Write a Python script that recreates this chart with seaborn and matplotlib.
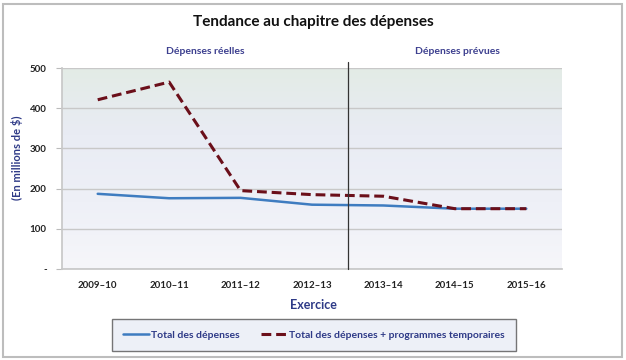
import numpy as np
import pandas as pd
import matplotlib
matplotlib.use("Agg")
import matplotlib.pyplot as plt
import seaborn as sns
from matplotlib.colors import LinearSegmentedColormap
from matplotlib.patches import Rectangle
from matplotlib.lines import Line2D

years = ["2009–10", "2010–11", "2011–12", "2012–13", "2013–14", "2014–15", "2015–16"]
total = [187, 176, 177, 160, 158, 150, 150]
total_temp = [421, 465, 195, 185, 181, 150, 150]
yticks = [0, 100, 200, 300, 400, 500]
ytick_labels = ["-", "100", "200", "300", "400", "500"]

sns.set_theme(style="white")
plt.rcParams["font.family"] = ["Lato", "DejaVu Sans"]

navy = "#2E3A87"
fig = plt.figure(figsize=(6.26, 3.6), dpi=100)
ax = fig.add_axes([62/626, 1-269/360, 500/626, 201/360])

# gradient background
cmap = LinearSegmentedColormap.from_list("bg", ["#F6F6FA", "#EEF0F7", "#E9ECF4", "#E3EBE6"])
grad = np.linspace(0, 1, 256).reshape(-1, 1)
ax.imshow(grad, extent=[-0.5, 6.5, 0, 500], aspect="auto", cmap=cmap, origin="lower", zorder=0)

df = pd.DataFrame({"Exercice": years, "a": total, "b": total_temp})
x = np.arange(len(years))
sns.lineplot(x=x, y=df["b"], ax=ax, color="#6B0F1A", lw=2.2, zorder=3)
ax.lines[-1].set_dashes([3.2, 1.6])
sns.lineplot(x=x, y=df["a"], ax=ax, color="#3E7CC0", lw=1.8, zorder=2)

ax.set_xlim(-0.5, 6.5)
ax.set_ylim(0, 500)
ax.set_yticks(yticks)
ax.set_yticklabels(ytick_labels)
ax.set_xticks(x)
ax.set_xticklabels(years)
ax.set_xticks(np.arange(-0.5, 7, 1), minor=True)
ax.tick_params(axis="x", which="major", length=0, pad=9, labelsize=7, labelcolor="#222222")
ax.tick_params(axis="x", which="minor", length=4, color="#BBBBBB", width=0.8, direction="out")
ax.tick_params(axis="y", length=4, color="#BBBBBB", width=0.8, labelsize=7, labelcolor="#222222", pad=7, left=True)
for lab in ax.get_xticklabels() + ax.get_yticklabels():
    lab.set_fontweight("bold")
ax.grid(axis="y", color="#C8C8C8", lw=1, zorder=1)
ax.set_axisbelow(True)
for s in ["top", "right"]:
    ax.spines[s].set_visible(False)
ax.spines["left"].set_color("#C8C8C8")
ax.spines["bottom"].set_color("#C8C8C8")
ax.set_xlabel("")
ax.set_ylabel("")

# vertical divider
ax.plot([3.5, 3.5], [0, 515], color="#333333", lw=0.9, clip_on=False, zorder=4)

fig.text(313/626, 1-22/360, "Tendance au chapitre des dépenses", ha="center", va="center",
         fontsize=11, fontweight="bold", color="#111111")
fig.text(205/626, 1-51/360, "Dépenses réelles", ha="center", va="center", fontsize=7.5,
         fontweight="bold", color="#3C3F8F")
fig.text(457/626, 1-51/360, "Dépenses prévues", ha="center", va="center", fontsize=7.5,
         fontweight="bold", color="#3C3F8F")
fig.text(17/626, 1-158/360, "(En millions de $)", ha="center", va="center", rotation=90,
         fontsize=8, fontweight="bold", color=navy)
fig.text(313/626, 1-305/360, "Exercice", ha="center", va="center", fontsize=9,
         fontweight="bold", color=navy)

handles = [Line2D([], [], color="#3E7CC0", lw=1.8),
           Line2D([], [], color="#6B0F1A", lw=2.2, dashes=[3.2, 1.6])]
leg = fig.legend(handles, ["Total des dépenses", "Total des dépenses + programmes temporaires"],
                 loc="center", bbox_to_anchor=(314/626, 1-335/360), ncol=2, frameon=True,
                 fancybox=False, fontsize=7.5, handlelength=2.5, handletextpad=0.2,
                 columnspacing=2.0, borderpad=1.1)
leg.get_frame().set_facecolor("#E9EDF6")
leg.get_frame().set_edgecolor("#555555")
leg.get_frame().set_linewidth(1.0)
for t in leg.get_texts():
    t.set_color(navy)
    t.set_fontweight("bold")

# outer border
fig.patches.append(Rectangle((3/626, 3/360), 619/626, 353/360, transform=fig.transFigure,
                             fill=False, edgecolor="#BDBDBD", lw=1.5))

fig.savefig("out.png", dpi=100)
